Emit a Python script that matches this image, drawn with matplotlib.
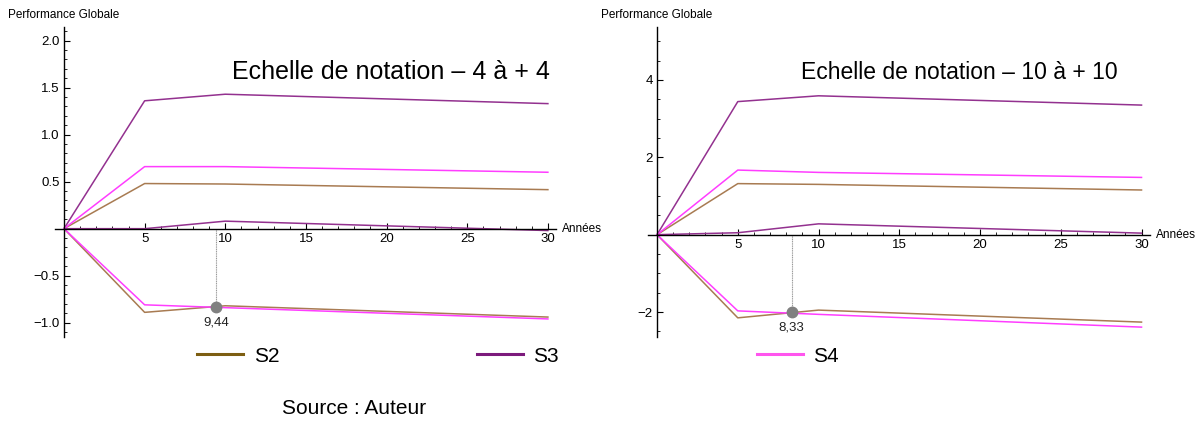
import matplotlib.pyplot as plt
from matplotlib.lines import Line2D
from matplotlib.ticker import FixedLocator, MultipleLocator

plt.rcParams['font.family'] = ['Liberation Sans', 'DejaVu Sans']

# années de simulation
annees = [0, 5, 10, 30]

# échelle de notation -4 à +4
g1_s2_haut = [0, 0.48, 0.475, 0.415]
g1_s3_haut = [0, 1.36, 1.43, 1.33]
g1_s4_haut = [0, 0.66, 0.66, 0.60]
g1_s2_bas = [0, -0.89, -0.82, -0.94]
g1_s3_bas = [0, 0.0, 0.08, -0.02]
g1_s4_bas = [0, -0.81, -0.84, -0.96]
g1_point = (9.44, -0.835)
g1_yticks = [-1.0, -0.5, 0.5, 1.0, 1.5, 2.0]

# échelle de notation -10 à +10
g2_s2_haut = [0, 1.32, 1.30, 1.155]
g2_s3_haut = [0, 3.44, 3.59, 3.35]
g2_s4_haut = [0, 1.67, 1.61, 1.48]
g2_s2_bas = [0, -2.15, -1.95, -2.26]
g2_s3_bas = [0, 0.05, 0.28, 0.04]
g2_s4_bas = [0, -1.97, -2.06, -2.39]
g2_point = (8.33, -2.0)
g2_yticks = [-2, 2, 4]

xticks = [5, 10, 15, 20, 25, 30]

c_s2 = '#a87b52'
c_s3 = '#93318f'
c_s4 = '#ff3dff'


def panel(ax, series, point, titre, tx, tsize, yticks, ylim, yminor, fmt):
    for vals, col in series:
        ax.plot(annees, vals, color=col, lw=1.1)
    px, py = point
    ax.plot([px, px], [0, py], color='#999999', lw=0.8, ls=(0, (1, 0.6)))
    ax.plot(px, py, 'o', color='#808080', ms=7.5, zorder=5)
    ax.annotate(('%.2f' % px).replace('.', ','), (px, py), xytext=(0, -11),
                textcoords='offset points', ha='center', va='center', fontsize=9.5, color='#222222')

    ax.set_xlim(-0.56, 30.5)
    ax.set_ylim(*ylim)
    for s in ['top', 'right']:
        ax.spines[s].set_visible(False)
    ax.spines['left'].set_position(('data', 0))
    ax.spines['bottom'].set_position(('data', 0))
    ax.spines['left'].set_linewidth(1.0)
    ax.spines['bottom'].set_linewidth(1.0)
    ax.xaxis.set_major_locator(FixedLocator(xticks))
    ax.xaxis.set_minor_locator(MultipleLocator(1))
    ax.yaxis.set_major_locator(FixedLocator(yticks))
    ax.yaxis.set_minor_locator(MultipleLocator(yminor))
    ax.set_yticklabels([(fmt % t).replace('-', '\u2212') for t in yticks])
    ax.tick_params(which='major', direction='in', length=4, width=0.8, labelsize=9.5, pad=3)
    ax.tick_params(which='minor', direction='in', length=2, width=0.6)

    ax.text(tx, 0.854, titre, transform=ax.transAxes, fontsize=tsize, va='center', ha='left')
    ax.text(-0.094, 1.037, 'Performance Globale', transform=ax.transAxes, fontsize=8.5, va='center')
    ax.text(30.9, 0, 'Années', fontsize=8.5, va='center', ha='left')


fig = plt.figure(figsize=(12, 4.21), dpi=100)
ax1 = fig.add_axes([0.0458, 0.2, 0.4175, 0.737])
ax2 = fig.add_axes([0.540, 0.2, 0.418, 0.736])

panel(ax1,
      [(g1_s2_haut, c_s2), (g1_s3_haut, c_s3), (g1_s4_haut, c_s4),
       (g1_s2_bas, c_s2), (g1_s3_bas, c_s3), (g1_s4_bas, c_s4)],
      g1_point, 'Echelle de notation – 4 à + 4', 0.353, 18,
      g1_yticks, (-1.15, 2.15), 0.1, '%.1f')
panel(ax2,
      [(g2_s2_haut, c_s2), (g2_s3_haut, c_s3), (g2_s4_haut, c_s4),
       (g2_s2_bas, c_s2), (g2_s3_bas, c_s3), (g2_s4_bas, c_s4)],
      g2_point, 'Echelle de notation – 10 à + 10', 0.306, 16.5,
      g2_yticks, (-2.64, 5.37), 0.5, '%d')

handles = [Line2D([], [], color='#7d5e12', lw=2.2),
           Line2D([], [], color='#7c1a7c', lw=2.2),
           Line2D([], [], color='#ff55ee', lw=2.2)]
fig.legend(handles, ['S2', 'S3', 'S4'], loc='center left', bbox_to_anchor=(0.1645, 0.154),
           ncol=3, frameon=False, fontsize=15, handlelength=2.2, handletextpad=0.5,
           columnspacing=9.5, borderpad=0, borderaxespad=0)

fig.text(282 / 1200, 0.03, 'Source : Auteur', fontsize=15, va='center', ha='left')

fig.savefig('out.png', dpi=100)
